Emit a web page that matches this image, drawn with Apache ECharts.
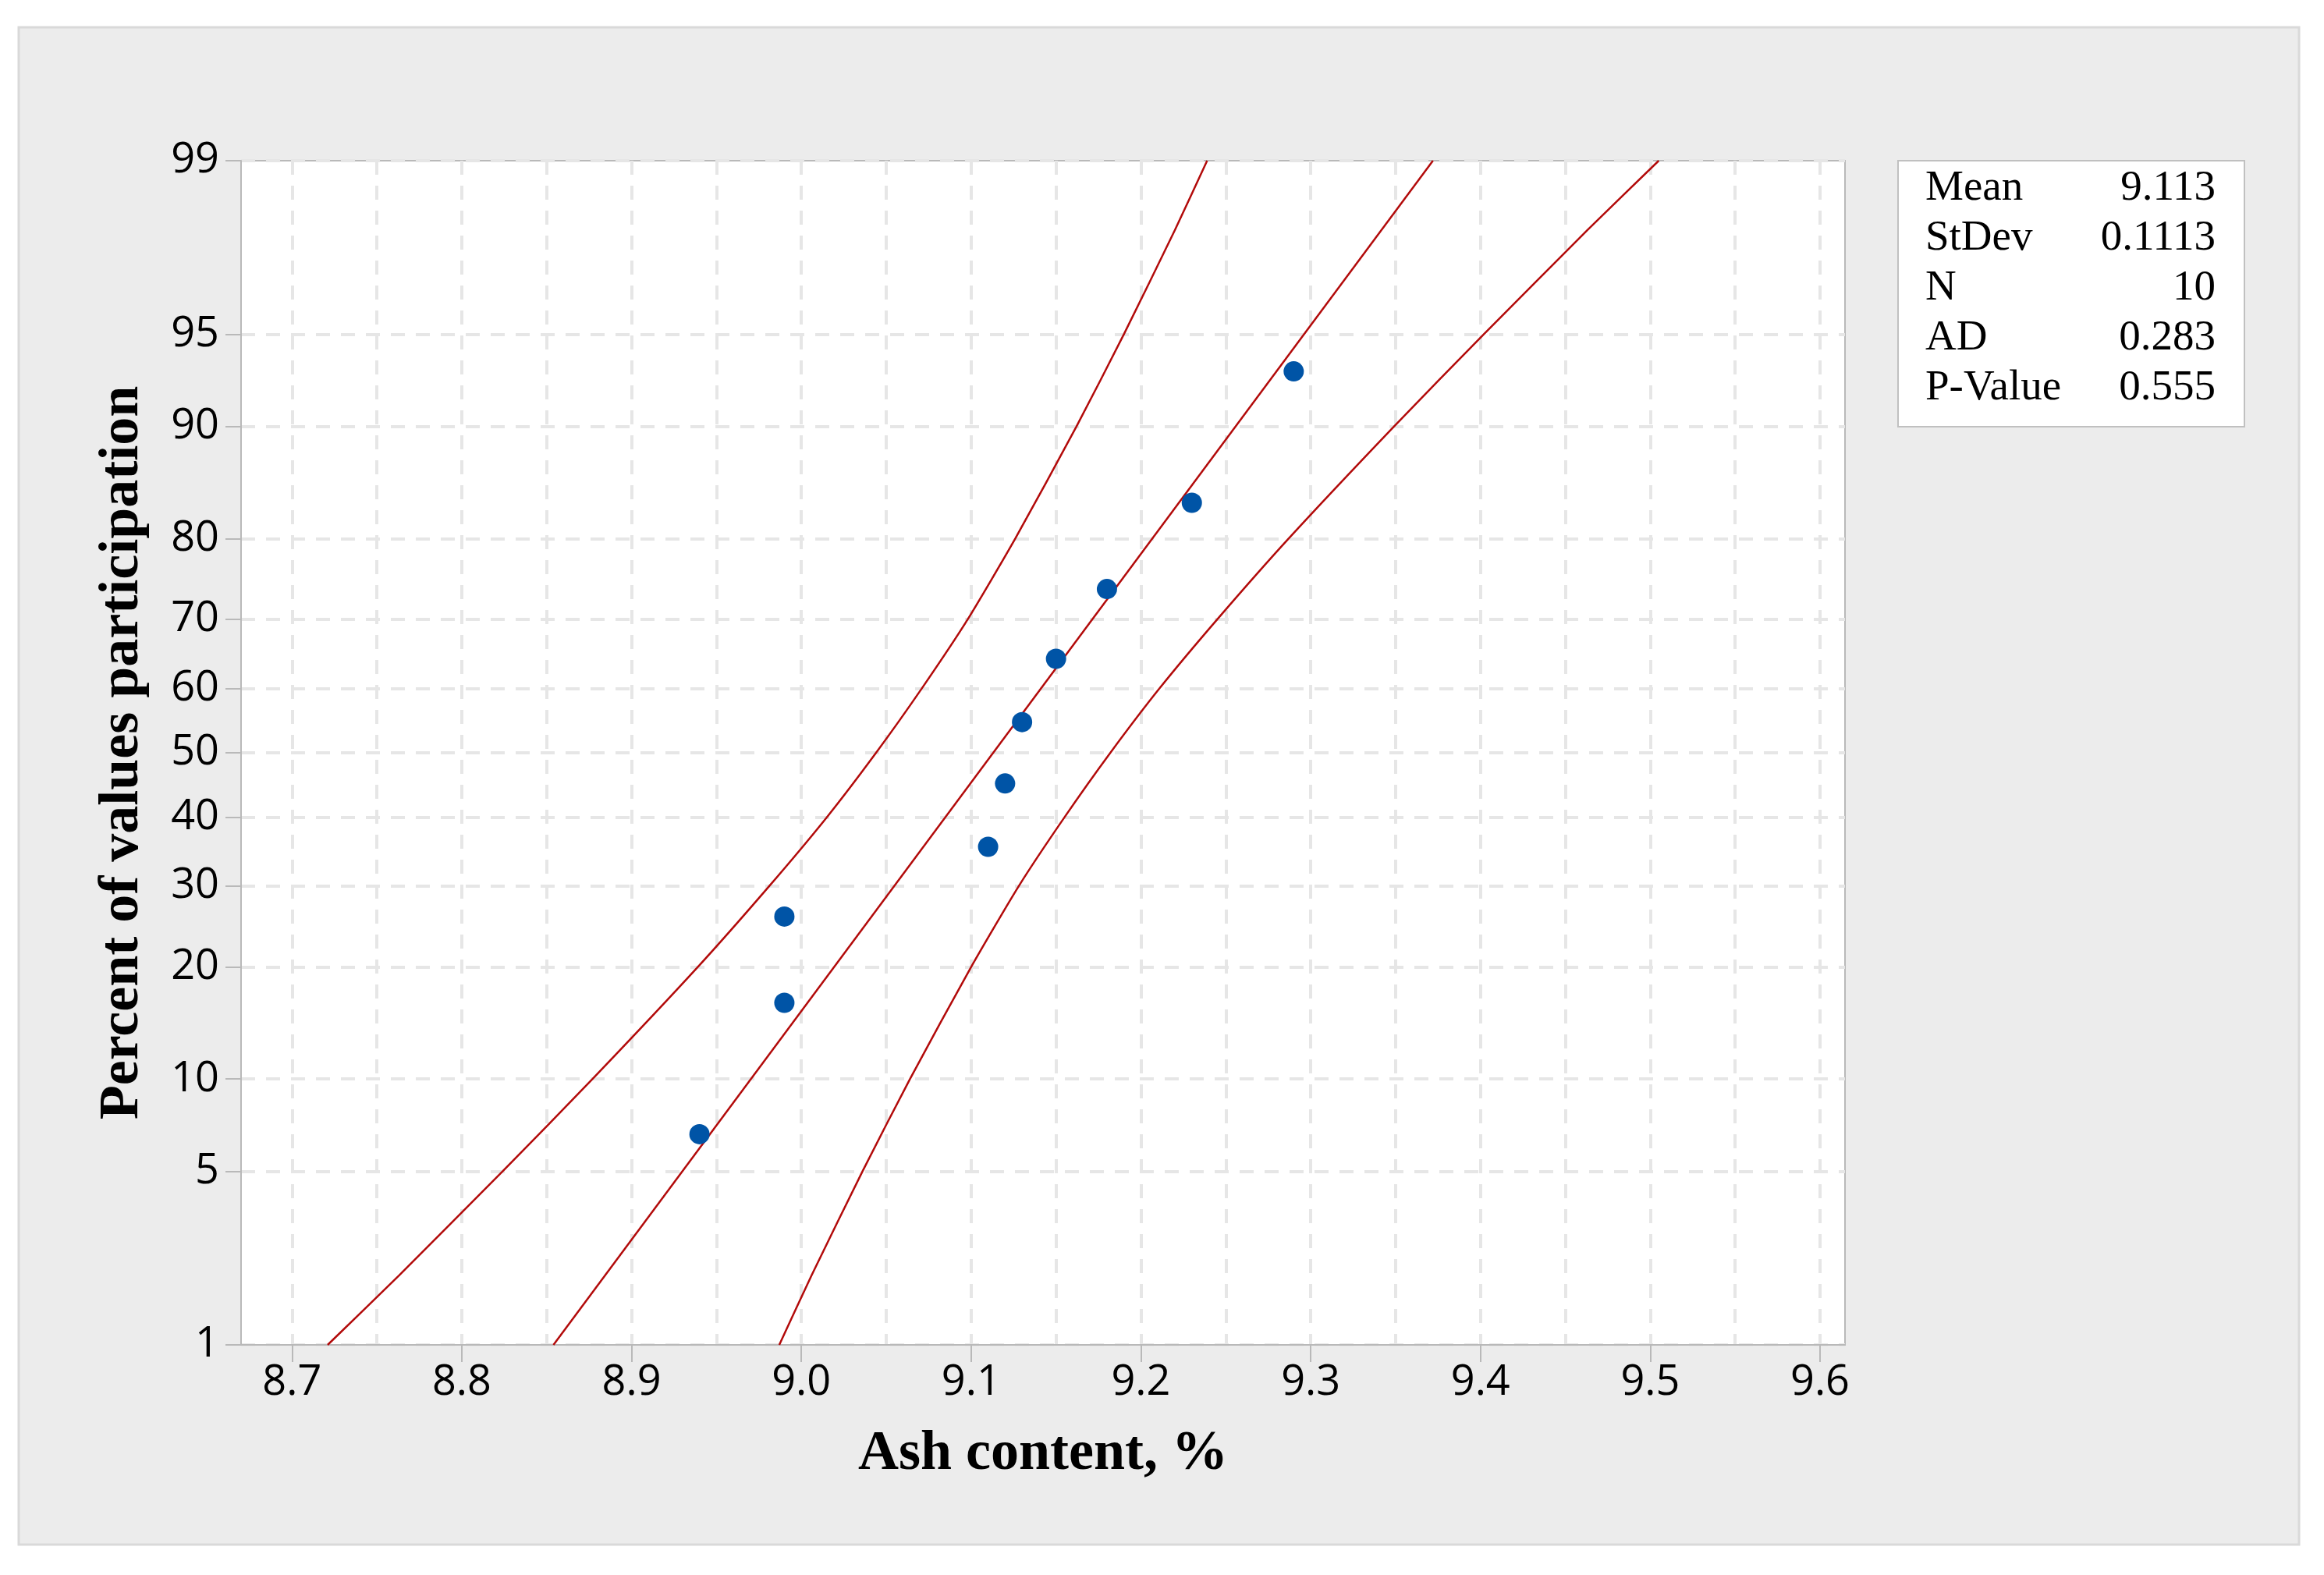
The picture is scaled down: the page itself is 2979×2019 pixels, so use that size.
<!DOCTYPE html>
<html>
<head>
<meta charset="utf-8">
<script src="https://cdn.jsdelivr.net/npm/echarts@6/dist/echarts.min.js"></script>
<style>html,body{margin:0;padding:0;background:#fff;}#chart{width:2979px;height:2019px;}</style>
</head>
<body>
<div id="chart"></div>
<script>
// ---- data ----
const ashValues = [8.94, 8.99, 8.99, 9.11, 9.12, 9.13, 9.15, 9.18, 9.23, 9.29];
const pctValues = [6.7, 16.3, 26.0, 35.6, 45.2, 54.8, 64.4, 74.0, 83.7, 93.3];
const fitX = [8.854, 9.372];
const fitPct = [1, 99];
const bandPct = [1, 2, 5, 10, 20, 30, 40, 50, 60, 70, 80, 90, 95, 98, 99];
const lowerBandX = [8.721, 8.763, 8.824, 8.877, 8.939, 8.981, 9.015, 9.044, 9.071, 9.098, 9.126, 9.162, 9.190, 9.220, 9.239];
const upperBandX = [8.987, 9.006, 9.036, 9.064, 9.100, 9.128, 9.155, 9.182, 9.211, 9.245, 9.287, 9.349, 9.402, 9.463, 9.505];
const pctTicks = [1, 5, 10, 20, 30, 40, 50, 60, 70, 80, 90, 95, 99];
const xTicks = [8.7, 8.8, 8.9, 9.0, 9.1, 9.2, 9.3, 9.4, 9.5, 9.6];
const xGridValues = [8.7, 8.75, 8.8, 8.85, 8.9, 8.95, 9.0, 9.05, 9.1, 9.15, 9.2, 9.25, 9.3, 9.35, 9.4, 9.45, 9.5, 9.55, 9.6];
const statLabels = ['Mean', 'StDev', 'N', 'AD', 'P-Value'];
const statValues = ['9.113', '0.1113', '10', '0.283', '0.555'];
const xTitle = 'Ash content, %';
const yTitle = 'Percent of values participation';

// normal probability scale transform (inverse normal CDF)
function probit(p) {
  const a=[-3.969683028665376e+01,2.209460984245205e+02,-2.759285104469687e+02,1.383577518672690e+02,-3.066479806614716e+01,2.506628277459239e+00];
  const b=[-5.447609879822406e+01,1.615858368580409e+02,-1.556989798598866e+02,6.680131188771972e+01,-1.328068155288572e+01];
  const c=[-7.784894002430293e-03,-3.223964580411365e-01,-2.400758277161838e+00,-2.549732539343734e+00,4.374664141464968e+00,2.938163982698783e+00];
  const d=[7.784695709041462e-03,3.224671290700398e-01,2.445134137142996e+00,3.754408661907416e+00];
  const pl = 0.02425;
  let q, r;
  if (p < pl) { q = Math.sqrt(-2*Math.log(p)); return (((((c[0]*q+c[1])*q+c[2])*q+c[3])*q+c[4])*q+c[5])/((((d[0]*q+d[1])*q+d[2])*q+d[3])*q+1); }
  if (p > 1-pl) { q = Math.sqrt(-2*Math.log(1-p)); return -(((((c[0]*q+c[1])*q+c[2])*q+c[3])*q+c[4])*q+c[5])/((((d[0]*q+d[1])*q+d[2])*q+d[3])*q+1); }
  q = p - 0.5; r = q*q;
  return (((((a[0]*r+a[1])*r+a[2])*r+a[3])*r+a[4])*r+a[5])*q/(((((b[0]*r+b[1])*r+b[2])*r+b[3])*r+b[4])*r+1);
}
const z = pct => probit(pct / 100);
const pairs = (xs, ps) => xs.map((x, i) => [x, z(ps[i])]);
const yTickZ = pctTicks.map(z);
function pctLabel(v) {
  let best = 0, bd = Infinity;
  yTickZ.forEach((t, i) => { const dd = Math.abs(t - v); if (dd < bd) { bd = dd; best = i; } });
  return String(pctTicks[best]);
}

const X_MIN = 8.670, X_MAX = 9.6147;
const labelFont = '"Open Sans", "Noto Sans", sans-serif';
const serif = '"Liberation Serif", "Times New Roman", serif';
const gridLeft = 309, gridTop = 206, gridW = 2056, gridH = 1518;
const axisGray = '#b9b9b9';
const gridLine = { show: true, lineStyle: { color: '#e6e6e6', width: 4, type: [18, 14] } };
const red = '#b20a0a';

const chart = echarts.init(document.getElementById('chart'), null, { renderer: 'canvas' });

const boxLeft = 2433, boxTop = 206, boxW = 444, boxH = 341;
const statGraphics = [];
statLabels.forEach((s, i) => {
  const cy = boxTop + 36 + 64 * i;
  statGraphics.push({ type: 'text', x: boxLeft + 35, y: cy, z: 10,
    style: { text: s, font: '55px ' + serif, fill: '#000', textAlign: 'left', textVerticalAlign: 'middle' } });
  statGraphics.push({ type: 'text', x: boxLeft + 407, y: cy, z: 10,
    style: { text: statValues[i], font: '55px ' + serif, fill: '#000', textAlign: 'right', textVerticalAlign: 'middle' } });
});

const option = {
  backgroundColor: '#ffffff',
  animation: false,
  graphic: [
    { type: 'rect', z: -10, shape: { x: 24, y: 35, width: 2923, height: 1945 },
      style: { fill: '#ececec', stroke: '#d9d9d9', lineWidth: 3 } },
    { type: 'rect', z: 5, shape: { x: boxLeft, y: boxTop, width: boxW, height: boxH },
      style: { fill: '#ffffff', stroke: '#c0c0c0', lineWidth: 2 } },
    ...statGraphics
  ],
  grid: { left: gridLeft, top: gridTop, width: gridW, height: gridH, show: true,
    backgroundColor: '#ffffff', borderColor: axisGray, borderWidth: 2, containLabel: false },
  xAxis: [
    { type: 'value', min: X_MIN, max: X_MAX, position: 'bottom',
      name: xTitle, nameLocation: 'middle', nameGap: 104,
      nameTextStyle: { fontFamily: serif, fontWeight: 'bold', fontSize: 72, color: '#000' },
      axisLine: { show: true, onZero: false, lineStyle: { color: axisGray, width: 2 } },
      axisTick: { show: true, length: 22, inside: false, customValues: xTicks, lineStyle: { color: axisGray, width: 2 } },
      axisLabel: { show: true, customValues: xTicks, margin: 22, fontFamily: labelFont, fontSize: 54, color: '#000',
        formatter: v => v.toFixed(1) },
      splitLine: { show: false } },
    { type: 'value', min: X_MIN, max: X_MAX, position: 'bottom',
      axisLine: { show: false }, axisTick: { show: false, customValues: xGridValues },
      axisLabel: { show: false, customValues: xGridValues }, splitLine: gridLine }
  ],
  yAxis: [
    { type: 'value', min: z(1), max: z(99),
      name: yTitle, nameLocation: 'middle', nameGap: 116, nameRotate: 90,
      nameTextStyle: { fontFamily: serif, fontWeight: 'bold', fontSize: 72, color: '#000' },
      axisLine: { show: true, onZero: false, lineStyle: { color: axisGray, width: 2 } },
      axisTick: { show: true, length: 20, customValues: yTickZ, lineStyle: { color: axisGray, width: 2 } },
      axisLabel: { show: true, customValues: yTickZ, margin: 28, fontFamily: labelFont, fontSize: 54, color: '#000',
        formatter: v => pctLabel(v) },
      splitLine: gridLine }
  ],
  series: [
    { type: 'line', name: 'lower', xAxisIndex: 0, data: pairs(lowerBandX, bandPct), showSymbol: false, smooth: 0.2,
      lineStyle: { color: red, width: 2.5 }, z: 3 },
    { type: 'line', name: 'fit', xAxisIndex: 0, data: pairs(fitX, fitPct), showSymbol: false,
      lineStyle: { color: red, width: 2.5 }, z: 3 },
    { type: 'line', name: 'upper', xAxisIndex: 0, data: pairs(upperBandX, bandPct), showSymbol: false, smooth: 0.2,
      lineStyle: { color: red, width: 2.5 }, z: 3 },
    { type: 'scatter', name: 'data', xAxisIndex: 0, data: pairs(ashValues, pctValues), symbol: 'circle', symbolSize: 26,
      itemStyle: { color: '#0054a6', opacity: 1 }, z: 4 }
  ]
};
chart.setOption(option);
</script>
</body>
</html>
